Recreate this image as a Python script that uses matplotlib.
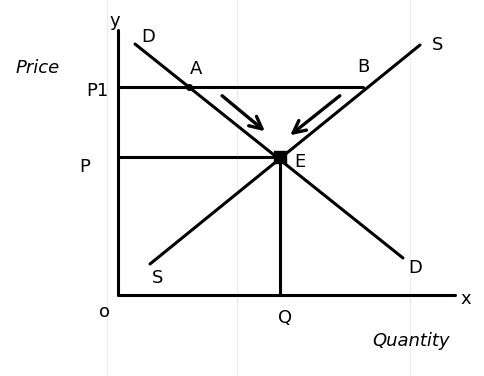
import matplotlib
matplotlib.use("Agg")
import matplotlib.pyplot as plt

# values, origin at O
demand_q = [17, 285]
demand_p = [251, 37]
supply_q = [32, 302]
supply_p = [31, 250]
p1 = 208
p_eq = 138
q_eq = 162
point_a = (71, 208)
point_b = (245, 208)
y_axis_top = 265
x_axis_end = 337
paper_lines = [-11, 119, 292]

fig = plt.figure(figsize=(4.85, 3.76), dpi=100)
ax = fig.add_axes([0, 0, 1, 1])
ax.set_xlim(-118, 367)
ax.set_ylim(-81, 295)
ax.axis("off")

# faint ruling of the notebook paper
for xv in paper_lines:
    ax.axvline(xv, color="#ececec", lw=0.8, zorder=0)

ink = dict(color="black", lw=2.2, solid_capstyle="round")

# axes
ax.plot([0, 0], [0, y_axis_top], **ink)
ax.plot([0, x_axis_end], [0, 0], **ink)

# curves
ax.plot(demand_q, demand_p, **ink)
ax.plot(supply_q, supply_p, **ink)

# price lines and equilibrium drop
ax.plot([0, point_b[0]], [p1, p1], **ink)
ax.plot([0, q_eq], [p_eq, p_eq], **ink)
ax.plot([q_eq, q_eq], [0, p_eq], **ink)

ax.plot(*point_a, "o", color="black", ms=4)
ax.plot(q_eq, p_eq, "s", color="black", ms=9)

# arrows toward equilibrium
arrow = dict(arrowstyle="->", color="black", lw=2.4, mutation_scale=22)
ax.annotate("", xy=(149, 162), xytext=(102, 201), arrowprops=arrow)
ax.annotate("", xy=(170, 158), xytext=(224, 201), arrowprops=arrow)

txt = dict(fontsize=13, color="black", ha="center", va="center")
ax.text(-3, 274, "y", **txt)
ax.text(30, 258, "D", **txt)
ax.text(78, 226, "A", **txt)
ax.text(245, 228, "B", **txt)
ax.text(320, 250, "S", **txt)
ax.text(182, 133, "E", **txt)
ax.text(-21, 204, "P1", **txt)
ax.text(-33, 128, "P", **txt)
ax.text(-80, 227, "Price", fontsize=13, ha="center", va="center", style="italic")
ax.text(40, 17, "S", **txt)
ax.text(297, 27, "D", **txt)
ax.text(-13, -17, "o", **txt)
ax.text(167, -23, "Q", **txt)
ax.text(348, -4, "x", **txt)
ax.text(293, -46, "Quantity", fontsize=13, ha="center", va="center", style="italic")

fig.savefig("out.png", dpi=100)
